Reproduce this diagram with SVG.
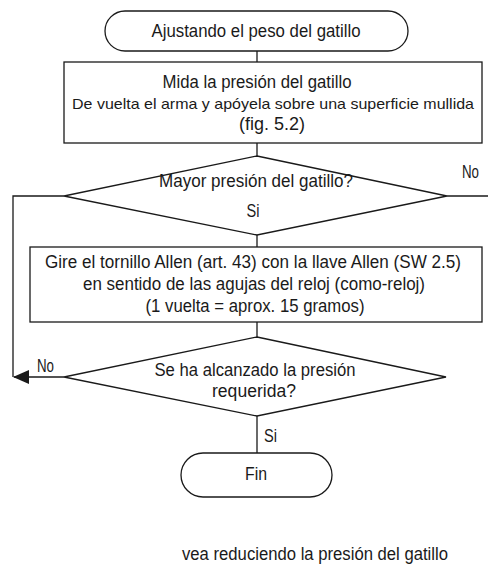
<svg xmlns="http://www.w3.org/2000/svg" width="488" height="571" viewBox="0 0 488 571">
<style>
.s{fill:#fff;stroke:#1a1a1a;stroke-width:1.3}
.c{fill:none;stroke:#1a1a1a;stroke-width:1.3}
text{font-family:"Liberation Sans",Arial,sans-serif;font-size:17.5px;fill:#1a1a1a}
.m{text-anchor:middle}
</style>
<defs>
<marker id="ah" markerWidth="16" markerHeight="14" refX="15" refY="7" orient="auto" markerUnits="userSpaceOnUse">
<path d="M0,0 L16,7 L0,14 Z" fill="#1a1a1a"/>
</marker>
</defs>
<g id="connectors">
<line class="c" x1="257" y1="51" x2="257" y2="62"/>
<line class="c" x1="257" y1="143" x2="257" y2="156"/>
<line class="c" x1="447" y1="196" x2="488" y2="196"/>
<polyline class="c" points="64,196 13,196 13,377"/>
<line class="c" x1="257" y1="235" x2="257" y2="247"/>
<line class="c" x1="257" y1="322" x2="257" y2="337"/>
<line class="c" x1="64" y1="377" x2="14" y2="377" marker-end="url(#ah)"/>
<line class="c" x1="257" y1="416" x2="257" y2="453"/>
<text x="462" y="178" textLength="17" lengthAdjust="spacingAndGlyphs">No</text>
<text x="37" y="372" textLength="17" lengthAdjust="spacingAndGlyphs">No</text>
<text x="264" y="442" textLength="13" lengthAdjust="spacingAndGlyphs">Si</text>
</g>
<g id="start">
<rect class="s" x="105" y="11" width="303" height="40" rx="20"/>
<text class="m" x="256" y="37" textLength="209" lengthAdjust="spacingAndGlyphs">Ajustando el peso del gatillo</text>
</g>
<g id="measure">
<rect class="s" x="64" y="62" width="418" height="81"/>
<text class="m" x="257" y="88" textLength="189" lengthAdjust="spacingAndGlyphs">Mida la presión del gatillo</text>
<text class="m" x="273" y="109" style="font-size:15px" textLength="402" lengthAdjust="spacingAndGlyphs">De vuelta el arma y apóyela sobre una superficie mullida</text>
<text class="m" x="272" y="130" textLength="66" lengthAdjust="spacingAndGlyphs">(fig. 5.2)</text>
</g>
<g id="decision1">
<polygon class="s" points="257,156 447,196 257,235 64,196"/>
<text class="m" x="256" y="187" textLength="194" lengthAdjust="spacingAndGlyphs">Mayor presión del gatillo?</text>
<text class="m" x="253" y="217" textLength="13" lengthAdjust="spacingAndGlyphs">Si</text>
</g>
<g id="turn">
<rect class="s" x="30" y="247" width="452" height="75"/>
<text class="m" x="253" y="268" textLength="416" lengthAdjust="spacingAndGlyphs">Gire el tornillo Allen (art. 43) con la llave Allen (SW 2.5)</text>
<text class="m" x="254" y="290" textLength="342" lengthAdjust="spacingAndGlyphs">en sentido de las agujas del reloj (como-reloj)</text>
<text class="m" x="255" y="312" textLength="219" lengthAdjust="spacingAndGlyphs">(1 vuelta = aprox. 15 gramos)</text>
</g>
<g id="decision2">
<polygon class="s" points="257,337 446,377 257,416 64,377"/>
<text class="m" x="255" y="376" textLength="201" lengthAdjust="spacingAndGlyphs">Se ha alcanzado la presión</text>
<text class="m" x="254" y="397" textLength="84" lengthAdjust="spacingAndGlyphs">requerida?</text>
</g>
<g id="end">
<rect class="s" x="181" y="453" width="151" height="44" rx="22"/>
<text class="m" x="256" y="480" textLength="22" lengthAdjust="spacingAndGlyphs">Fin</text>
</g>
<g id="note">
<text class="m" x="315" y="560" textLength="266" lengthAdjust="spacingAndGlyphs">vea reduciendo la presión del gatillo</text>
</g>
</svg>
